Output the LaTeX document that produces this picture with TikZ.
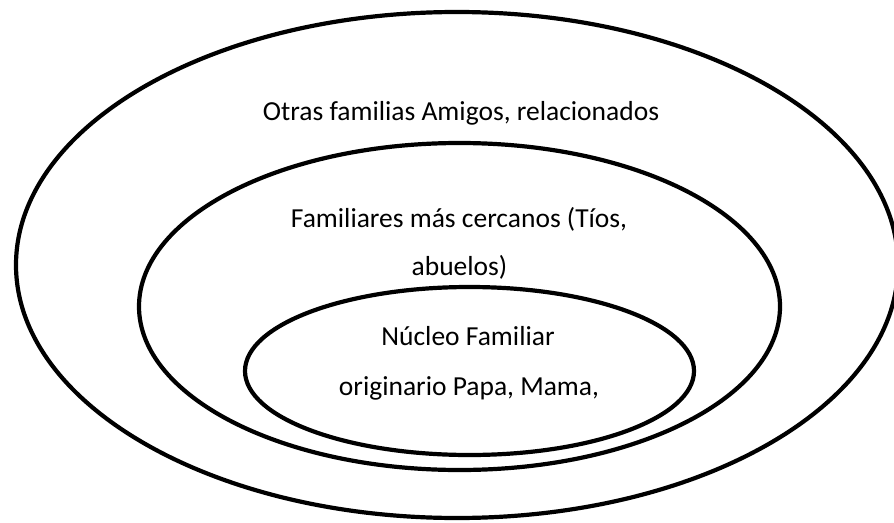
\documentclass[tikz,border=0pt]{standalone}
\usepackage{fontspec}
\setmainfont{Carlito}
\usetikzlibrary{shapes.geometric}
\begin{document}
\begin{tikzpicture}[x=1pt,y=-1pt,
  ring/.style={draw=black, line width=4.2pt, ellipse, inner sep=0pt, fill=none},
  label/.style={anchor=base, inner sep=0pt, font=\fontsize{27.5}{33}\selectfont}]
\useasboundingbox (0,0) rectangle (894,522);
\clip (0,0) rectangle (894,522);
\fill[white] (0,0) rectangle (894,522);
\node[ring, minimum width=882pt, minimum height=506pt] (outer) at (457,265) {};
\node[ring, minimum width=641pt, minimum height=327pt] (middle) at (459.5,306.5) {};
\node[ring, minimum width=449pt, minimum height=168pt] (inner) at (469.5,371) {};
\node[label] (t1) at (461,120) {Otras familias Amigos, relacionados};
\node[label] (t2) at (459,227) {Familiares más cercanos (Tíos,};
\node[label] (t3) at (459.5,275) {abuelos)};
\node[label] (t4) at (468,345) {Núcleo Familiar};
\node[label] (t5) at (469,395) {originario Papa, Mama,};
\end{tikzpicture}
\end{document}
